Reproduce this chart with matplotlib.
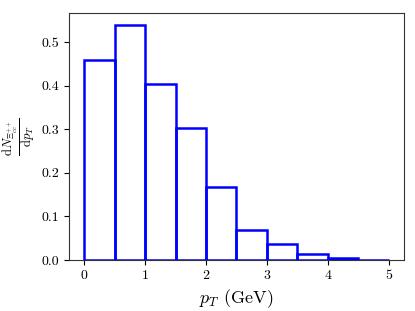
import matplotlib
matplotlib.use("Agg")
import matplotlib.pyplot as plt
import numpy as np

bin_edges = [0, 0.5, 1.0, 1.5, 2.0, 2.5, 3.0, 3.5, 4.0, 4.5, 5.0]
counts = [0.46, 0.54, 0.404, 0.302, 0.168, 0.07, 0.036, 0.014, 0.004, 0.001]

plt.rcParams['font.family'] = 'serif'
plt.rcParams['font.serif'] = ['cmr10']
plt.rcParams['mathtext.fontset'] = 'cm'
plt.rcParams['axes.formatter.use_mathtext'] = True

fig = plt.figure(figsize=(4.15, 3.11), dpi=100)
ax = fig.add_axes([0.166, 0.164, 0.8075, 0.794])
ax.hist(bin_edges[:-1], bins=bin_edges, weights=counts, histtype='bar',
        fill=False, edgecolor='blue', linewidth=1.8)
ax.set_xlim(-0.25, 5.25)
ax.set_ylim(0, 0.567)
ax.set_xticks([0, 1, 2, 3, 4, 5])
ax.set_yticks([0, 0.1, 0.2, 0.3, 0.4, 0.5])
ax.set_xticklabels(['0', '1', '2', '3', '4', '5'])
ax.set_yticklabels(['0.0', '0.1', '0.2', '0.3', '0.4', '0.5'])
ax.tick_params(labelsize=10)
ax.set_xlabel(r'$p_T$ (GeV)', fontsize=13)
ax.set_ylabel(r'$\frac{\mathrm{d}N_{\Xi_{cc}^{++}}}{\mathrm{d}p_T}$', fontsize=13)
ax.yaxis.set_label_coords(-0.093, 0.5)
for s in ax.spines.values():
    s.set_color('#333333')
fig.savefig('out.png', dpi=100)
